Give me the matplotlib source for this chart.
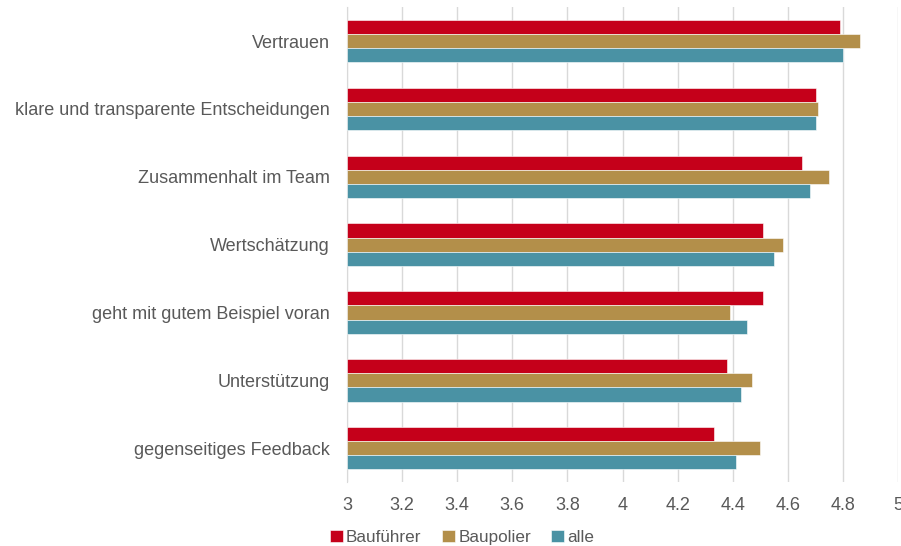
import numpy as np
import matplotlib
matplotlib.use("Agg")
import matplotlib.pyplot as plt

plt.rcParams['font.family'] = ['Liberation Sans', 'DejaVu Sans']

# survey items, top to bottom
categories = [
    "Vertrauen",
    "klare und transparente Entscheidungen",
    "Zusammenhalt im Team",
    "Wertschätzung",
    "geht mit gutem Beispiel voran",
    "Unterstützung",
    "gegenseitiges Feedback",
]
bauführer = [4.79, 4.70, 4.65, 4.51, 4.51, 4.38, 4.33]
baupolier = [4.86, 4.71, 4.75, 4.58, 4.39, 4.47, 4.50]
alle = [4.80, 4.70, 4.68, 4.55, 4.45, 4.43, 4.41]

series = [("Bauführer", bauführer, "#C5001A"),
          ("Baupolier", baupolier, "#B38F4A"),
          ("alle", alle, "#4A92A4")]

text_col = "#595959"

fig = plt.figure(figsize=(9.01, 5.46), dpi=100)
ax = fig.add_axes([0.385, 0.117, 0.612, 0.870])

y = np.arange(len(categories))
h = 0.625 / 3
for i, (name, vals, col) in enumerate(series):
    ax.barh(y + (i - 1) * h, np.array(vals) - 3, left=3, height=h,
            color=col, label=name, edgecolor="white", linewidth=0.4, zorder=3)

ax.set_xlim(3, 5)
ax.set_ylim(len(categories) - 0.5, -0.5)
ax.set_xticks(np.arange(3, 5.01, 0.2))
ax.set_xticklabels(["3", "3.2", "3.4", "3.6", "3.8", "4", "4.2", "4.4", "4.6", "4.8", "5"])
ax.set_yticks(y)
ax.set_yticklabels(categories)

ax.grid(axis="x", color="#d9d9d9", linewidth=1, zorder=0)
for s in ["top", "right", "bottom"]:
    ax.spines[s].set_visible(False)
ax.spines["left"].set_color("#d9d9d9")
ax.tick_params(axis="x", length=0, pad=11, labelsize=13, labelcolor=text_col)
ax.tick_params(axis="y", length=0, pad=12.5, labelsize=13, labelcolor=text_col)

handles, labels = ax.get_legend_handles_labels()
fig.legend(handles, labels, loc="center", bbox_to_anchor=(0.513, 0.016),
           ncol=3, frameon=False, fontsize=12.3, labelcolor=text_col,
           handlelength=0.75, handleheight=0.75, handletextpad=0.2,
           columnspacing=1.2)

fig.savefig("out.png", dpi=100)
